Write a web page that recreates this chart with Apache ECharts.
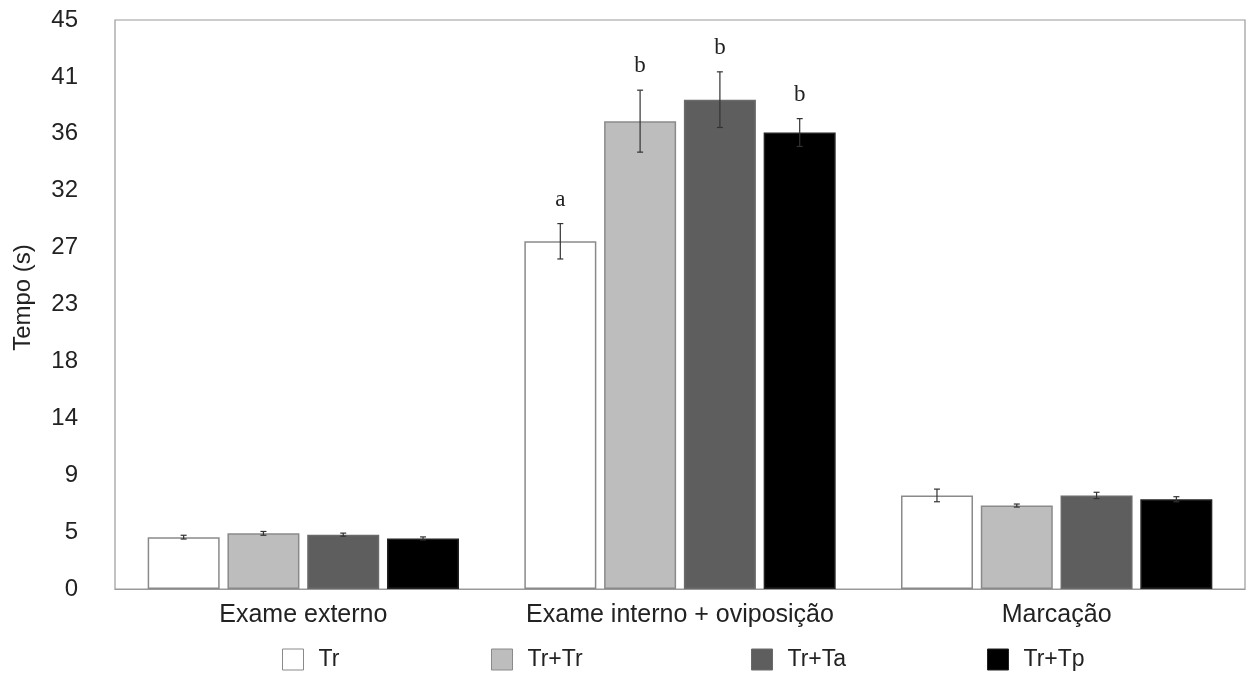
<!DOCTYPE html>
<html>
<head>
<meta charset="utf-8">
<script src="https://cdn.jsdelivr.net/npm/echarts@6/dist/echarts.min.js"></script>
<style>
  html, body { margin: 0; padding: 0; background: #fff; }
  #chart { width: 1247px; height: 673px; }
</style>
</head>
<body>
<div id="chart"></div>
<script>
// Behaviour categories and treatments
const categories = ['Exame externo', 'Exame interno + oviposição', 'Marcação'];
const seriesNames = ['Tr', 'Tr+Tr', 'Tr+Ta', 'Tr+Tp'];

// Mean time (s) per treatment, one value per category
const meanTr   = [4.1, 27.5, 7.4];
const meanTrTr = [4.4, 37.0, 6.6];
const meanTrTa = [4.3, 38.7, 7.4];
const meanTrTp = [4.0, 36.1, 7.1];

// Standard errors
const errTr   = [0.15, 1.4, 0.5];
const errTrTr = [0.15, 2.45, 0.12];
const errTrTa = [0.12, 2.2, 0.25];
const errTrTp = [0.12, 1.1, 0.2];

// Significance letters above the bars
const letTr   = ['', 'a', ''];
const letTrTr = ['', 'b', ''];
const letTrTa = ['', 'b', ''];
const letTrTp = ['', 'b', ''];

// Y axis tick labels (step of 4.5 s, shown rounded)
const yTickLabels = ['0', '5', '9', '14', '18', '23', '27', '32', '36', '41', '45'];

const means = [meanTr, meanTrTr, meanTrTa, meanTrTp];
const errs = [errTr, errTrTr, errTrTa, errTrTp];
const letters = [letTr, letTrTr, letTrTa, letTrTp];
const fills = ['#ffffff', '#bdbdbd', '#5e5e5e', '#000000'];
const borders = ['#8a8a8a', '#8a8a8a', '#6a6a6a', '#222222'];

const SANS = '"Liberation Sans", Arial, Helvetica, sans-serif';
const BAR_W = 72;
const BAR_GAP = 7.8;
const legendLefts = [282, 491, 751, 987];

const chart = echarts.init(document.getElementById('chart'));

const series = [];
means.forEach((m, i) => {
  series.push({
    name: seriesNames[i],
    type: 'bar',
    data: m,
    barWidth: BAR_W,
    barGap: (BAR_GAP / BAR_W * 100).toFixed(1) + '%',
    itemStyle: { color: fills[i], borderColor: borders[i], borderWidth: 1.5 },
    emphasis: { disabled: true },
    z: 2
  });
});

// Error bars and letters, drawn at the offset of each bar in its group
means.forEach((m, i) => {
  const groupW = 4 * BAR_W + 3 * BAR_GAP;
  const offset = -groupW / 2 + BAR_W / 2 + i * (BAR_W + BAR_GAP);
  series.push({
    type: 'custom',
    name: seriesNames[i] + ' err',
    data: m.map((v, k) => [k, v, errs[i][k]]),
    z: 5,
    silent: true,
    renderItem: function (params, api) {
      const k = api.value(0);
      const v = api.value(1);
      const e = api.value(2);
      const lt = letters[i][k];
      const hi = api.coord([k, v + e]);
      const lo = api.coord([k, v - e]);
      const x = hi[0] + offset;
      const cap = 3;
      const st = { stroke: '#333', lineWidth: 1.2 };
      const children = [
        { type: 'line', shape: { x1: x, y1: hi[1], x2: x, y2: lo[1] }, style: st },
        { type: 'line', shape: { x1: x - cap, y1: hi[1], x2: x + cap, y2: hi[1] }, style: st },
        { type: 'line', shape: { x1: x - cap, y1: lo[1], x2: x + cap, y2: lo[1] }, style: st }
      ];
      if (lt) {
        children.push({
          type: 'text',
          style: {
            text: lt, x: x, y: hi[1] - 24,
            align: 'center', verticalAlign: 'middle',
            font: '23px "Liberation Serif", "DejaVu Serif", serif',
            fill: '#222'
          }
        });
      }
      return { type: 'group', children: children };
    }
  });
});

const legends = seriesNames.map((n, i) => ({
  data: [{ name: n, icon: 'rect' }],
  left: legendLefts[i],
  top: 648,
  itemWidth: 21,
  itemHeight: 21,
  itemGap: 0,
  padding: 0,
  selectedMode: false,
  textStyle: { fontSize: 23, color: '#222', fontFamily: SANS, padding: [0, 0, 0, 10] },
  itemStyle: { borderColor: borders[i], borderWidth: 1 }
}));

chart.setOption({
  animation: false,
  backgroundColor: '#fff',
  legend: legends,
  grid: {
    left: 115, right: 2, top: 20, bottom: 84,
    show: true, borderColor: '#9a9a9a', borderWidth: 1.2, backgroundColor: 'transparent'
  },
  xAxis: {
    type: 'category',
    data: categories,
    axisTick: { show: false },
    axisLine: { lineStyle: { color: '#9a9a9a', width: 1.2 } },
    axisLabel: { fontSize: 25, color: '#222', margin: 14, fontFamily: SANS, interval: 0, hideOverlap: false }
  },
  yAxis: {
    type: 'value',
    min: 0, max: 45, interval: 4.5,
    name: 'Tempo (s)',
    nameLocation: 'middle',
    nameGap: 80,
    nameRotate: 90,
    nameTextStyle: { fontSize: 24, color: '#222', fontFamily: SANS, padding: [0, 0, 0, 14] },
    axisLine: { show: false },
    axisTick: { show: false },
    splitLine: { show: false },
    axisLabel: {
      fontSize: 24, color: '#222', margin: 37,
      fontFamily: SANS,
      formatter: function (v) { return yTickLabels[Math.round(v / 4.5)]; }
    }
  },
  series: series
});
</script>
</body>
</html>
